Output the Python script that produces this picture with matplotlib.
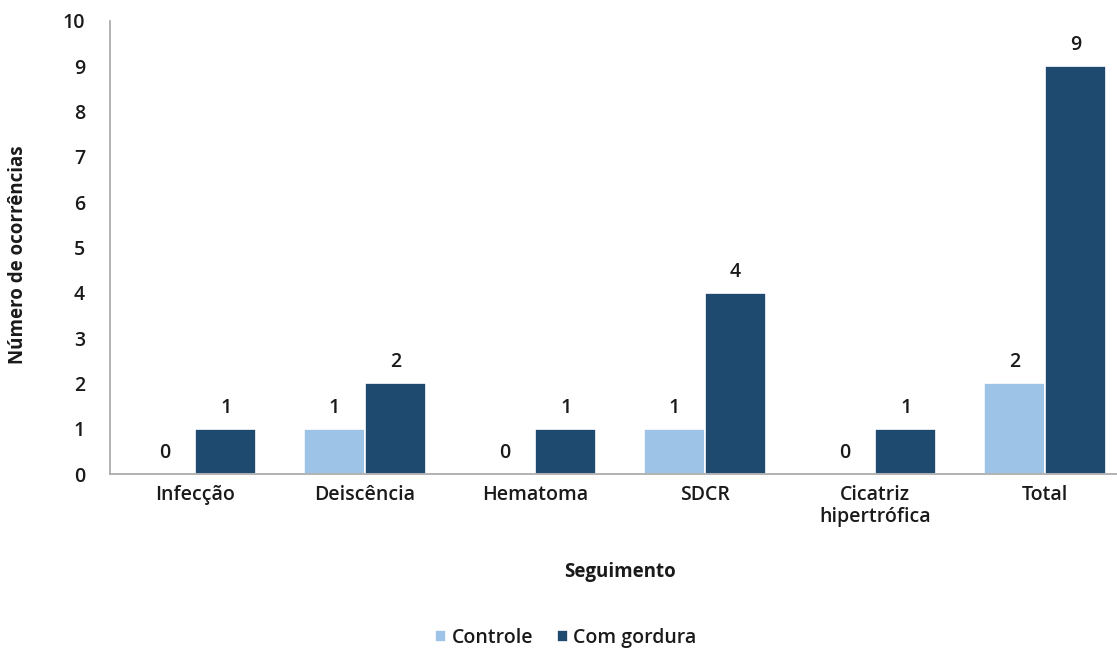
import matplotlib.pyplot as plt
import numpy as np

plt.rcParams['font.family'] = ['Open Sans', 'DejaVu Sans']
plt.rcParams['font.weight'] = 'semibold'
plt.rcParams['text.color'] = '#1a1a1a'
plt.rcParams['xtick.color'] = '#1a1a1a'
plt.rcParams['ytick.color'] = '#1a1a1a'

categorias = ["Infecção", "Deiscência", "Hematoma", "SDCR", "Cicatriz\nhipertrófica", "Total"]
controle = [0, 1, 0, 1, 0, 2]
com_gordura = [1, 2, 1, 4, 1, 9]

cor_controle = "#9dc3e6"
cor_gordura = "#1f4a70"

fig = plt.figure(figsize=(11.17, 6.51), dpi=100)
ax = fig.add_axes([110 / 1117, 1 - 474 / 651, 1020 / 1117, 453 / 651])

x = np.arange(len(categorias))
w = 0.36
b1 = ax.bar(x - w / 2, controle, w, color=cor_controle, edgecolor="white", linewidth=1.2, label="Controle")
b2 = ax.bar(x + w / 2, com_gordura, w, color=cor_gordura, edgecolor="white", linewidth=1.2, label="Com gordura")

for barras, vals in ((b1, controle), (b2, com_gordura)):
    for b, v in zip(barras, vals):
        ax.annotate(str(v), (b.get_x() + b.get_width() / 2, v), xytext=(0, 8),
                    textcoords="offset points", ha="center", va="bottom", fontsize=14)

ax.set_xlim(-0.5, len(categorias) - 0.5)
ax.set_ylim(0, 10)
ax.set_yticks(range(0, 11))
ax.set_xticks(x)
ax.set_xticklabels(categorias, fontsize=14, linespacing=1.15)
ax.tick_params(axis="y", labelsize=14, length=0, pad=18)
ax.tick_params(axis="x", length=0, pad=8)
for s in ("top", "right"):
    ax.spines[s].set_visible(False)
for s in ("left", "bottom"):
    ax.spines[s].set_color("#a6a6a6")
    ax.spines[s].set_linewidth(1.2)

fig.text(18 / 1117, 1 - 255 / 651, "Número de ocorrências", rotation=90, ha="center", va="center",
         fontsize=13.5, fontweight="bold")
fig.text(620 / 1117, 1 - 572 / 651, "Seguimento", ha="center", va="center", fontsize=13.5, fontweight="bold")

fig.legend(handles=[b1, b2], loc="center", bbox_to_anchor=(566 / 1117, 1 - 638 / 651), ncol=2,
           frameon=False, fontsize=14, handlelength=0.55, handleheight=0.55, handletextpad=0.3,
           columnspacing=1.2)

fig.savefig("out.png", dpi=100)
